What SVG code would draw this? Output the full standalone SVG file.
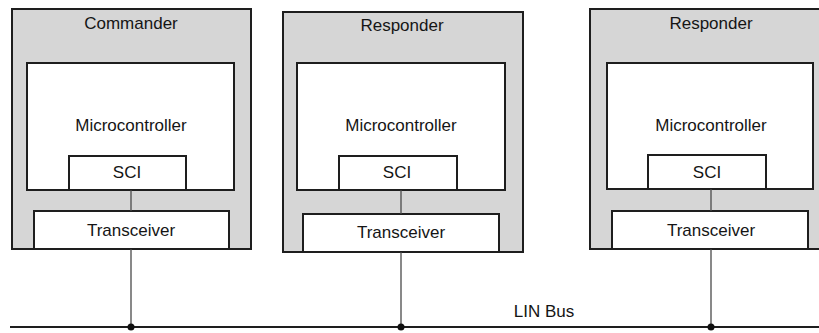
<svg xmlns="http://www.w3.org/2000/svg" width="819" height="333" viewBox="0 0 819 333">
<style>
text{font-family:"Liberation Sans",Arial,sans-serif;font-size:17px;fill:#151515;text-anchor:middle}
.outer{fill:#d6d6d6;stroke:#1e1e1e;stroke-width:2}
.box{fill:#ffffff;stroke:#1e1e1e;stroke-width:2}
.wire{stroke:#4a4a4a;stroke-width:1.3;fill:none}
.bus{stroke:#1e1e1e;stroke-width:2;fill:none}
.dot{fill:#111}
</style>
<rect width="819" height="333" fill="#ffffff"/>
<g id="commander">
<rect class="outer" x="12" y="9" width="239" height="240"/>
<text x="131" y="29">Commander</text>
<rect class="box" x="27" y="63" width="207" height="127"/>
<text x="131" y="131">Microcontroller</text>
<rect class="box" x="69" y="156" width="117" height="34"/>
<text x="127" y="178">SCI</text>
<rect class="box" x="34" y="211" width="195" height="38"/>
<text x="131" y="236">Transceiver</text>
</g>
<g id="responder1">
<rect class="outer" x="283" y="12" width="240" height="240"/>
<text x="402" y="31">Responder</text>
<rect class="box" x="297" y="63" width="208" height="127"/>
<text x="401" y="131">Microcontroller</text>
<rect class="box" x="339" y="156" width="118" height="34"/>
<text x="397" y="178">SCI</text>
<rect class="box" x="303" y="214" width="196" height="38"/>
<text x="401" y="238">Transceiver</text>
</g>
<g id="responder2">
<rect class="outer" x="590" y="9" width="240" height="240"/>
<text x="711" y="29">Responder</text>
<rect class="box" x="607" y="63" width="206" height="126"/>
<text x="711" y="131">Microcontroller</text>
<rect class="box" x="648" y="155" width="118" height="34"/>
<text x="707" y="178">SCI</text>
<rect class="box" x="612" y="211" width="196" height="38"/>
<text x="711" y="236">Transceiver</text>
</g>
<g id="connectors">
<line class="wire" x1="131" y1="190" x2="131" y2="211"/>
<line class="wire" x1="401" y1="190" x2="401" y2="214"/>
<line class="wire" x1="711" y1="189" x2="711" y2="211"/>
<line class="wire" x1="131" y1="249" x2="131" y2="327"/>
<line class="wire" x1="401" y1="252" x2="401" y2="327"/>
<line class="wire" x1="711" y1="249" x2="711" y2="327"/>
<line class="bus" x1="10" y1="327" x2="819" y2="327"/>
<circle class="dot" cx="131" cy="327" r="3.5"/>
<circle class="dot" cx="401" cy="327" r="3.5"/>
<circle class="dot" cx="711" cy="327" r="3.5"/>
</g>
<text x="544" y="317">LIN Bus</text>
</svg>
